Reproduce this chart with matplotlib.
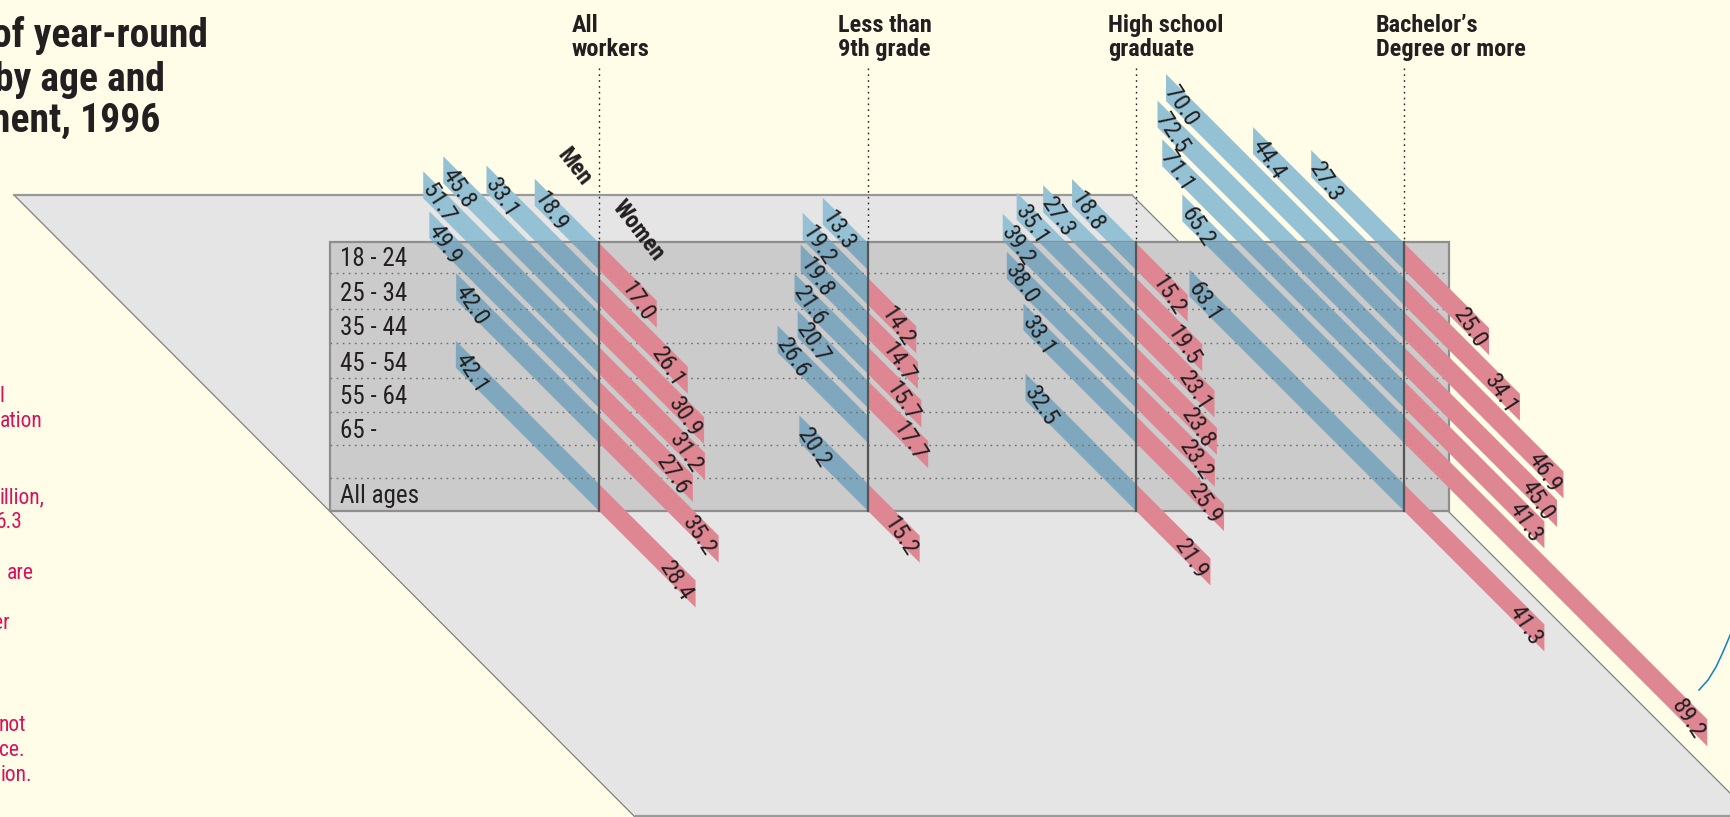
import matplotlib
matplotlib.use('Agg')
import matplotlib.pyplot as plt
from matplotlib.patches import Polygon, Rectangle

plt.rcParams['font.family'] = ['Roboto Condensed', 'Liberation Sans', 'DejaVu Sans']

# Data: percent of workers, one value per row (None = no bar)
ages = ['18 - 24', '25 - 34', '35 - 44', '45 - 54', '55 - 64', '65 -', '', 'All ages']
education = [['All', 'workers'], ['Less than', '9th grade'],
             ['High school', 'graduate'], ['Bachelor\u2019s', 'Degree or more']]

men_all = [18.9, 33.1, 45.8, 51.7, 49.9, 42.0, None, 42.1]
men_9th = [13.3, 19.2, 19.8, 21.6, 20.7, 26.6, None, 20.2]
men_hs = [18.8, 27.3, 35.1, 39.2, 38.0, 33.1, None, 32.5]
men_ba = [27.3, 44.4, 70.0, 72.5, 71.1, 65.2, None, 63.1]

women_all = [17.0, 26.1, 30.9, 31.2, 27.6, 35.2, None, 28.4]
women_9th = [None, 14.2, 14.7, 15.7, 17.7, None, None, 15.2]
women_hs = [15.2, 19.5, 23.1, 23.8, 23.2, 25.9, None, 21.9]
women_ba = [25.0, 34.1, 46.9, 45.0, 41.3, 89.2, None, 41.3]

men = [men_all, men_9th, men_hs, men_ba]
women = [women_all, women_9th, women_hs, women_ba]

title_lines = ['of year-round', 'by age and', 'ment, 1996']
notes = ['l', 'ation', 'illion,', '6.3', 'are', 'er', 'not', 'ce.', 'ion.']

# Layout, in pixels of the 1731x817 picture
axis_x = [599, 868, 1136, 1404]
head_x = [571.5, 838, 1108, 1376]
row_top = [243, 278, 312, 347, 381, 416, 450, 484]
row_lines = [273, 309, 343, 378, 412, 445, 478]
bar_h = 27
scale = 3.4  # px per percentage point

cream = '#FFFDE8'
plate = '#E5E5E6'
panel = '#CBCBCB'
pink = '#DE8793'
blue_light = '#94C1D3'
blue_dark = '#7FA8BE'
ink = '#231F20'

fig = plt.figure(figsize=(17.31, 8.17), dpi=100, facecolor=cream)
ax = fig.add_axes([0, 0, 1, 1])
ax.set_xlim(0, 1731)
ax.set_ylim(817, 0)
ax.axis('off')

# Floor plate and grey panel
ax.add_patch(Polygon([(14, 195), (1132, 195), (1755, 818), (636, 818)], closed=True,
                     fc=plate, ec='#808080', lw=0.9, zorder=1))
ax.plot([14, 1132], [195, 195], color='#999999', lw=1.6, zorder=1.1)
ax.plot([636, 1731], [816, 816], color='#999999', lw=1.6, zorder=1.1)
panel_rect = Rectangle((330, 242), 1449 - 330, 511 - 242, fc=panel, ec='#8E8E8E', lw=1.6, zorder=3)
ax.add_patch(panel_rect)

for line_y in row_lines:
    ax.plot([330, 1449], [line_y, line_y], color='#6E6E6E', lw=1.0, ls=(0, (1.2, 3.2)), zorder=5)

# Bars and their values
for x0, men_vals, women_vals in zip(axis_x, men, women):
    for top, v in zip(row_top, men_vals):
        if v is None:
            continue
        ln = v * scale
        pts = [(x0, top), (x0, top + bar_h), (x0 - ln, top + bar_h - ln), (x0 - ln, top - ln)]
        ax.add_patch(Polygon(pts, closed=True, fc=blue_light, ec='none', zorder=2))
        over = Polygon(pts, closed=True, fc=blue_dark, ec='none', zorder=4)
        ax.add_patch(over)
        over.set_clip_path(Rectangle((330, 242), 1119, 269, transform=ax.transData))
        ax.text(x0 - ln + 15, top - ln + 16 + bar_h / 2 + 3, f'{v:.1f}', color=ink, fontsize=17.5,
                rotation=-57, rotation_mode='anchor', ha='center', va='center', zorder=8)
    for top, v in zip(row_top, women_vals):
        if v is None:
            continue
        ln = v * scale
        pts = [(x0, top), (x0, top + bar_h), (x0 + ln, top + bar_h + ln), (x0 + ln, top + ln)]
        ax.add_patch(Polygon(pts, closed=True, fc=pink, ec='none', zorder=6))
        ax.text(x0 + ln - 19.5, top + ln - 15 + bar_h / 2 + 2, f'{v:.1f}', color=ink, fontsize=17.5,
                rotation=-57, rotation_mode='anchor', ha='center', va='center', zorder=8)

# Column axes and headings
for x0, hx, head in zip(axis_x, head_x, education):
    ax.plot([x0, x0], [242, 511], color='#555555', lw=1.6, zorder=7)
    ax.plot([x0, x0], [68, 242], color=ink, lw=1.0, ls=(0, (1.2, 3.0)), zorder=7)
    ax.text(hx, 32, head[0], color=ink, fontsize=17.5, fontweight='bold', va='baseline', ha='left')
    ax.text(hx, 56, head[1], color=ink, fontsize=17.5, fontweight='bold', va='baseline', ha='left')

# Row labels
label_base = [266, 301, 335, 371, 404, 438, None, 503]
for age, base in zip(ages, label_base):
    if age:
        ax.text(340, base, age, color=ink, fontsize=18, va='baseline', ha='left', zorder=8)

ax.text(574, 167, 'Men', color=ink, fontsize=17, fontweight='bold', rotation=-52,
        rotation_mode='anchor', ha='center', va='center', zorder=8)
ax.text(638, 231, 'Women', color=ink, fontsize=17, fontweight='bold', rotation=-52,
        rotation_mode='anchor', ha='center', va='center', zorder=8)

# Title and side notes run off the left edge of the picture
title_right = [208, 165, 160]
title_base = [47, 91, 132]
for txt, right, base in zip(title_lines, title_right, title_base):
    ax.text(right, base, txt, color=ink, fontsize=28.5, fontweight='bold', ha='right', va='baseline')

note_right = [4, 43, 45, 22, 34, 10, 26, 25, 32]
note_base = [402, 427, 503, 528, 579, 629, 731, 756, 781]
for txt, right, base in zip(notes, note_right, note_base):
    ax.text(right, base, txt, color='#D6135A', fontsize=15.5, ha='right', va='baseline')

# Blue leader line at lower right
ax.plot([1699, 1708, 1716, 1723, 1731], [690, 680, 667, 652, 633], color='#1080C0', lw=1.1, zorder=2)

plt.savefig('out.png', dpi=100, facecolor=cream)
